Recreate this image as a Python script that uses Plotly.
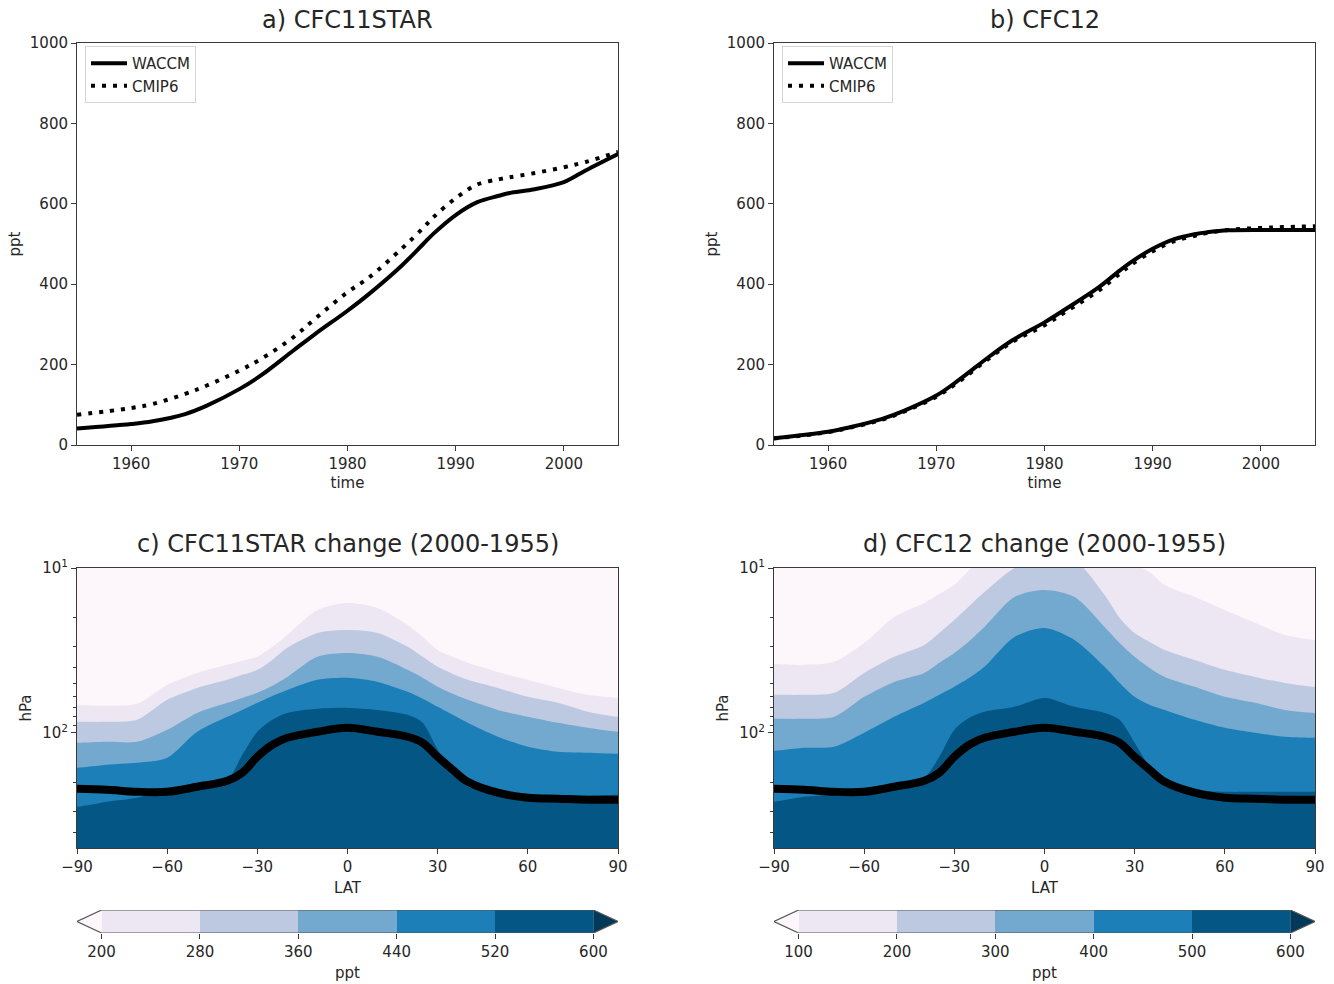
import plotly.graph_objects as go

# ---------------- time series (ppt) ----------------
years = [1955, 1960, 1962, 1965, 1967, 1970, 1972, 1975, 1977, 1980, 1982,
         1985, 1987, 1988, 1990, 1992, 1994, 1995, 1997, 2000, 2002, 2005]
cfc11_waccm = [41, 52, 59, 77, 98, 139, 173, 235, 276, 334, 376,
               446, 500, 527, 572, 604, 620, 627, 635, 654, 683, 724]
cfc11_cmip6 = [75, 92, 102, 127, 148, 185, 214, 268, 314, 380, 417,
               488, 540, 568, 614, 648, 661, 666, 675, 691, 704, 729]
cfc12_waccm = [17, 33, 44, 65, 85, 123, 160, 222, 260, 305, 339,
               392, 435, 455, 488, 512, 525, 529, 534, 535, 535, 535]
cfc12_cmip6 = [16, 32, 43, 63, 83, 120, 156, 218, 256, 298, 332,
               384, 427, 448, 482, 507, 521, 527, 535, 540, 542, 544]

# ---------------- latitude-pressure contour boundaries (hPa) ----------------
lat = [-90, -80, -70, -60, -50, -40, -35, -30, -25, -20, -10, 0,
       10, 20, 25, 30, 35, 40, 50, 60, 70, 80, 90]

# panel c: CFC11STAR change, level boundaries 200/280/360/440/520 ppt
c_levels = [200, 280, 360, 440, 520, 600]
c_b200 = [67.7, 68.6, 66.7, 51.2, 43.3, 38.7, 36.6, 34.6, 30.1, 25.5, 18.0, 16.3,
          17.5, 22.2, 26.2, 31.4, 34.6, 37.6, 42.7, 47.7, 53.4, 58.8, 61.4]
c_b280 = [85.8, 85.8, 83.4, 63.1, 53.4, 47.7, 44.5, 41.5, 36.1, 30.5, 24.8, 23.8,
          24.8, 30.1, 34.6, 39.8, 43.9, 47.7, 53.4, 60.5, 65.8, 74.6, 80.0]
c_b360 = [115.0, 113.4, 113.4, 95.9, 75.7, 65.8, 61.4, 57.2, 51.9, 45.8, 34.6, 32.8,
          34.6, 41.5, 46.4, 52.6, 58.0, 63.1, 72.6, 80.0, 87.0, 93.3, 98.6]
c_b440 = [163.0, 156.3, 152.0, 141.8, 98.6, 80.0, 72.6, 65.8, 59.7, 54.9, 47.7, 46.4,
          49.1, 56.4, 62.2, 69.6, 77.8, 87.0, 105.7, 121.6, 130.4, 132.2, 134.1]
c_b520 = [280.9, 261.9, 247.7, 221.6, 200.9, 192.7, 135.9, 98.6, 83.4, 75.7, 71.5, 70.6,
          72.6, 77.8, 87.0, 126.8, 174.7, 212.5, 231.0, 237.5, 240.9, 240.9, 237.5]

# panel d: CFC12 change, level boundaries 100/200/300/400/500 ppt
d_levels = [100, 200, 300, 400, 500, 600]
d_b100 = [38.2, 38.7, 37.1, 28.5, 19.8, 16.3, 14.4, 12.7, 10.3, 8.7, 7.26, 6.77,
          7.26, 8.34, 8.94, 9.59, 10.6, 12.7, 15.0, 18.0, 21.5, 25.5, 27.3]
d_b200 = [58.8, 58.8, 57.2, 43.3, 34.6, 29.3, 24.8, 20.7, 17.0, 14.0, 10.0, 8.34,
          8.94, 14.6, 20.1, 24.8, 28.1, 31.4, 36.1, 41.5, 45.8, 49.8, 52.6]
d_b300 = [82.3, 82.3, 80.0, 60.5, 49.1, 43.3, 37.6, 32.8, 27.7, 22.8, 15.0, 13.6,
          15.0, 22.8, 28.5, 34.6, 40.4, 45.8, 52.6, 60.5, 65.8, 72.6, 75.7]
d_b400 = [128.5, 123.3, 121.6, 100.0, 80.0, 65.8, 58.8, 52.6, 46.4, 39.8, 26.2, 23.1,
          27.3, 39.8, 49.8, 60.5, 67.7, 72.6, 83.4, 93.3, 100.0, 105.7, 107.2]
d_b500 = [261.9, 244.3, 237.5, 227.9, 212.5, 187.4, 139.8, 95.9, 81.1, 74.6, 69.6, 61.4,
          69.6, 75.7, 83.4, 115.0, 160.7, 192.7, 221.6, 227.9, 227.9, 227.9, 227.9]

# tropopause pressure (hPa)
tropopause = [218.5, 221.6, 227.9, 227.9, 212.5, 195.4, 174.7, 139.8, 118.2, 107.2, 98.6, 93.3,
              98.6, 105.7, 115.0, 139.8, 167.6, 198.2, 231.0, 247.7, 251.2, 254.7, 254.7]

# PuBu palette (under, 5 bands, over)
under_col = "#fdf6fa"
band_cols = ["#ece7f2", "#bdc9e1", "#73a9cf", "#1c7fb8", "#045685"]
over_col = "#023858"

W, H = 1334, 984
FONT = "DejaVu Sans"
TXT = "#262626"
AXC = "#3a3a3a"


def px_x(x0, x1):
    return [x0 / W, x1 / W]


def px_y(top, bot):
    return [1 - bot / H, 1 - top / H]


fig = go.Figure()

# ---- top line panels ----
for (xa, ya, waccm, cmip, leg) in [("x", "y", cfc11_waccm, cfc11_cmip6, "legend"),
                                   ("x2", "y2", cfc12_waccm, cfc12_cmip6, "legend2")]:
    fig.add_trace(go.Scatter(x=years, y=waccm, mode="lines", name="WACCM",
                             line=dict(color="black", width=4, shape="spline", smoothing=1.0),
                             xaxis=xa, yaxis=ya, legend=leg))
    fig.add_trace(go.Scatter(x=years, y=cmip, mode="lines", name="CMIP6",
                             line=dict(color="black", width=4, dash="4px,7px", shape="spline",
                                       smoothing=1.0),
                             xaxis=xa, yaxis=ya, legend=leg))

# ---- contour panels ----
for (xa, ya, bounds) in [("x3", "y3", [c_b200, c_b280, c_b360, c_b440, c_b520]),
                         ("x4", "y4", [d_b100, d_b200, d_b300, d_b400, d_b500])]:
    for b, col in zip(bounds, band_cols):
        fig.add_trace(go.Scatter(x=[-100] + lat + [100, 100, -100],
                                 y=[b[0]] + b + [b[-1], 5000, 5000],
                                 fill="toself", fillcolor=col, mode="lines",
                                 line=dict(width=0, color=col, shape="spline", smoothing=0.8),
                                 hoverinfo="skip", showlegend=False, xaxis=xa, yaxis=ya))
    fig.add_trace(go.Scatter(x=lat, y=tropopause, mode="lines",
                             line=dict(color="black", width=8, shape="spline"),
                             hoverinfo="skip", showlegend=False, xaxis=xa, yaxis=ya))

# ---- colour bars ----
for (xa, ya, levels) in [("x5", "y5", c_levels), ("x6", "y6", d_levels)]:
    n = len(band_cols)
    cs = []
    for i, c in enumerate(band_cols):
        cs.append([i / n, c])
        cs.append([(i + 1) / n, c])
    fig.add_trace(go.Heatmap(x=levels, y=[0, 1], z=[list(range(n))], colorscale=cs,
                             zmin=-0.5, zmax=n - 0.5, showscale=False, hoverinfo="skip",
                             xaxis=xa, yaxis=ya))
    step = levels[1] - levels[0]
    ext = step * 0.25
    lo, hi = levels[0], levels[-1]
    fig.add_trace(go.Scatter(x=[lo, lo - ext, lo, lo], y=[0, 0.5, 1, 0], fill="toself",
                             fillcolor=under_col, mode="lines", line=dict(width=0),
                             hoverinfo="skip", showlegend=False, xaxis=xa, yaxis=ya))
    fig.add_trace(go.Scatter(x=[hi, hi + ext, hi, hi], y=[0, 0.5, 1, 0], fill="toself",
                             fillcolor=over_col, mode="lines", line=dict(width=0),
                             hoverinfo="skip", showlegend=False, xaxis=xa, yaxis=ya))
    fig.add_trace(go.Scatter(x=[lo, hi, hi + ext, hi, lo, lo - ext, lo],
                             y=[1, 1, 0.5, 0, 0, 0.5, 1], mode="lines",
                             line=dict(color="#555555", width=1.2),
                             hoverinfo="skip", showlegend=False, xaxis=xa, yaxis=ya))

tickfont = dict(family=FONT, size=15, color=TXT)
titlefont = dict(family=FONT, size=15, color=TXT)

common = dict(showline=True, mirror=True, linecolor=AXC, linewidth=1, ticks="outside",
              ticklen=5, tickcolor=AXC, tickfont=tickfont, showgrid=False, zeroline=False,
              automargin=False)

xa_top = dict(range=[1955, 2005], tickvals=[1960, 1970, 1980, 1990, 2000],
              title=dict(text="time", font=titlefont, standoff=5), **common)
ya_top = dict(range=[0, 1000], tickvals=[0, 200, 400, 600, 800, 1000],
              title=dict(text="ppt", font=titlefont, standoff=5), **common)

xa_lat = dict(range=[-90, 90], tickvals=[-90, -60, -30, 0, 30, 60, 90],
              title=dict(text="LAT", font=titlefont, standoff=7), **common)
ya_p = dict(type="log", range=[2.69897, 1], tickmode="array", tickvals=[10, 100],
            ticktext=["10<sup>1</sup>", "10<sup>2</sup>"],
            minor=dict(tickmode="array", tickvals=[20, 30, 40, 50, 60, 70, 80, 90, 200, 300, 400],
                       ticks="outside", ticklen=3, tickcolor=AXC, showgrid=False),
            title=dict(text="hPa", font=titlefont, standoff=6), **common)

cb_common = dict(showline=False, ticks="outside", ticklen=5, tickcolor=AXC, tickfont=tickfont,
                 showgrid=False, zeroline=False, automargin=False,
                 title=dict(text="ppt", font=titlefont, standoff=7))

fig.update_layout(
    width=W, height=H, autosize=False,
    margin=dict(l=0, r=0, t=0, b=0, autoexpand=False),
    paper_bgcolor="white", plot_bgcolor="white",
    font=dict(family=FONT, color=TXT),
    xaxis=dict(domain=px_x(77, 618), anchor="y", **xa_top),
    yaxis=dict(domain=px_y(43, 445), anchor="x", **ya_top),
    xaxis2=dict(domain=px_x(774, 1315), anchor="y2", **xa_top),
    yaxis2=dict(domain=px_y(43, 445), anchor="x2", **ya_top),
    xaxis3=dict(domain=px_x(77, 618), anchor="y3", **xa_lat),
    yaxis3=dict(domain=px_y(568, 848), anchor="x3", **ya_p),
    xaxis4=dict(domain=px_x(774, 1315), anchor="y4", **xa_lat),
    yaxis4=dict(domain=px_y(568, 848), anchor="x4", **ya_p),
    xaxis5=dict(domain=px_x(77, 618), anchor="y5",
                range=[c_levels[0] - 20, c_levels[-1] + 20], tickvals=c_levels, **cb_common),
    yaxis5=dict(domain=px_y(910, 933), anchor="x5", range=[0, 1], visible=False),
    xaxis6=dict(domain=px_x(774, 1315), anchor="y6",
                range=[d_levels[0] - 25, d_levels[-1] + 25], tickvals=d_levels, **cb_common),
    yaxis6=dict(domain=px_y(910, 933), anchor="x6", range=[0, 1], visible=False),
    legend=dict(x=85 / W, y=1 - 46 / H, xanchor="left", yanchor="top",
                bgcolor="rgba(255,255,255,0.9)", bordercolor="#d5d5d5", borderwidth=1,
                font=dict(family=FONT, size=15, color=TXT), itemwidth=36, tracegroupgap=0),
    legend2=dict(x=782 / W, y=1 - 46 / H, xanchor="left", yanchor="top",
                 bgcolor="rgba(255,255,255,0.9)", bordercolor="#d5d5d5", borderwidth=1,
                 font=dict(family=FONT, size=15, color=TXT), itemwidth=36, tracegroupgap=0),
    shapes=[
        dict(type="rect", xref="x3 domain", yref="y3 domain", x0=0, x1=1, y0=0, y1=1,
             fillcolor=under_col, line=dict(width=0), layer="below"),
        dict(type="rect", xref="x4 domain", yref="y4 domain", x0=0, x1=1, y0=0, y1=1,
             fillcolor=under_col, line=dict(width=0), layer="below"),
    ],
)

titles = [("a) CFC11STAR", 347.5, 20), ("b) CFC12", 1044.5, 20),
          ("c) CFC11STAR change (2000-1955)", 347.5, 544),
          ("d) CFC12 change (2000-1955)", 1044.5, 544)]
for t, cx, cy in titles:
    fig.add_annotation(text=t, x=cx / W, y=1 - cy / H, xref="paper", yref="paper",
                       xanchor="center", yanchor="middle", showarrow=False,
                       font=dict(family=FONT, size=24, color=TXT))

fig.write_html("out.html")
